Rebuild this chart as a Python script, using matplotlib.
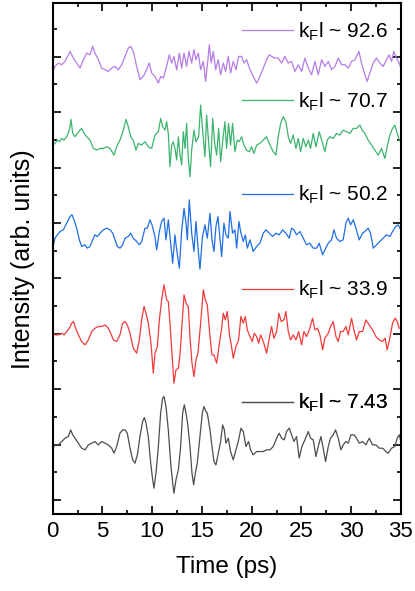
import matplotlib
import matplotlib.pyplot as plt

matplotlib.use('agg')

plt.rcParams['font.family'] = ['Liberation Sans', 'DejaVu Sans']
plt.rcParams['mathtext.default'] = 'regular'

# (time in ps, intensity in arb. units), top to bottom
purple_trace = [
    (0.00, -25), (0.23, -10), (0.57, 0), (0.90, -5), (1.24, 5), (1.74, 35), (2.08, 15), (2.41, 0),
    (2.75, -15), (3.08, 10), (3.42, 30), (3.75, 25), (4.02, 50), (4.25, 30), (4.59, 10), (4.92, -15),
    (5.26, -20), (5.59, -25), (5.93, -15), (6.26, -10), (6.60, -20), (6.93, -5), (7.27, 20), (7.60, 45),
    (7.84, 50), (8.10, 35), (8.44, -10), (8.78, -50), (9.11, -40), (9.44, -20), (9.71, 0), (9.95, -30),
    (10.28, -40), (10.62, -60), (10.85, -40), (11.12, -45), (11.45, -10), (11.72, 25), (11.96, 0),
    (12.19, 20), (12.46, -20), (12.73, 30), (12.96, -15), (13.20, 30), (13.46, -10), (13.70, 35),
    (13.97, 0), (14.20, 40), (14.40, 10), (14.64, 30), (14.87, -20), (15.14, 5), (15.37, -55),
    (15.57, 0), (15.74, 55), (15.94, 0), (16.14, 35), (16.38, -20), (16.64, 10), (16.88, -35),
    (17.15, 0), (17.38, -25), (17.65, 20), (17.88, -30), (18.15, 5), (18.42, -20), (18.69, 20),
    (18.99, 20), (19.22, 0), (19.49, 10), (19.83, -20), (20.16, -40), (20.50, -60), (20.83, -40),
    (21.17, -15), (21.50, 10), (21.77, 25), (22.00, 20), (22.34, 15), (22.67, 15), (23.01, 0),
    (23.34, 20), (23.68, 0), (24.01, 5), (24.35, -25), (24.68, -5), (25.02, -25), (25.35, 15),
    (25.69, -15), (26.02, -35), (26.36, 5), (26.69, -35), (27.03, 10), (27.36, -10), (27.70, 5),
    (28.03, -20), (28.37, -10), (28.70, 15), (29.04, -5), (29.37, -5), (29.71, -15), (30.04, 5),
    (30.38, 10), (30.78, 35), (31.04, 0), (31.38, -35), (31.61, -55), (31.88, -30), (32.22, 0),
    (32.55, 15), (32.89, 0), (33.22, -10), (33.56, 10), (33.83, 25), (34.06, 5), (34.29, 35),
    (34.56, 15), (34.83, 0), (35.00, -15),
]

green_trace = [
    (0.00, -10), (0.23, -5), (0.47, 5), (0.67, 0), (0.90, 10), (1.14, 5), (1.41, 15), (1.67, 35),
    (1.84, 67), (2.01, 25), (2.24, 15), (2.48, 25), (2.75, 35), (2.91, 40), (3.15, 25), (3.42, 15),
    (3.75, 5), (4.09, -20), (4.42, -25), (4.76, -20), (5.09, -20), (5.43, -15), (5.76, -20),
    (6.16, -40), (6.43, -15), (6.76, 5), (7.10, 35), (7.37, 67), (7.60, 45), (7.84, 15), (8.10, 5),
    (8.37, -25), (8.61, -5), (8.94, -10), (9.28, 0), (9.61, -15), (9.95, -20), (10.28, 20),
    (10.62, 30), (10.85, 70), (11.05, 45), (11.29, 35), (11.45, 60), (11.62, 25), (11.79, -75),
    (11.96, -10), (12.12, 0), (12.29, -20), (12.46, -55), (12.63, 15), (12.79, -35), (12.96, -70),
    (13.13, 30), (13.30, -20), (13.46, 55), (13.63, -50), (13.80, -105), (13.97, -25), (14.20, 35),
    (14.40, 0), (14.67, 15), (14.87, 110), (15.07, 35), (15.30, -45), (15.47, 80), (15.67, 0),
    (15.87, -75), (16.08, 70), (16.28, -5), (16.48, -40), (16.68, 40), (16.88, -60), (17.08, 0),
    (17.31, 60), (17.48, -20), (17.68, 55), (17.88, -10), (18.08, 55), (18.32, -30), (18.55, 5),
    (18.75, 0), (18.99, 15), (19.22, -10), (19.49, -25), (19.76, -30), (19.99, -15), (20.23, -35),
    (20.50, -10), (20.83, -5), (21.17, 5), (21.50, 15), (21.84, -10), (22.17, -30), (22.44, -40),
    (22.67, 15), (22.91, 55), (23.18, 75), (23.44, 60), (23.68, 15), (23.91, -5), (24.18, 20),
    (24.45, -20), (24.68, 10), (24.92, -30), (25.18, 10), (25.45, -15), (25.69, 5), (25.92, -20),
    (26.19, 25), (26.46, -15), (26.79, 30), (27.13, -5), (27.36, -30), (27.60, 5), (27.86, 15),
    (28.20, 10), (28.53, 25), (28.87, 20), (29.20, 35), (29.54, 30), (29.87, 25), (30.21, 40),
    (30.54, 40), (30.88, 50), (31.11, 35), (31.38, 25), (31.71, 5), (32.05, -10), (32.38, -25),
    (32.72, -40), (33.05, -20), (33.39, -50), (33.62, -15), (33.89, 20), (34.16, 40), (34.39, 50),
    (34.63, 25), (34.83, 5), (35.00, 0),
]

blue_trace = [
    (0.00, -35), (0.23, -5), (0.47, 5), (0.74, 15), (1.07, 20), (1.41, 40), (1.74, 60), (1.94, 65),
    (2.14, 50), (2.41, 25), (2.68, -10), (2.91, -30), (3.25, -25), (3.48, -35), (3.75, -30),
    (4.02, -10), (4.25, 5), (4.49, 0), (4.76, 10), (5.09, 20), (5.43, 25), (5.76, 20), (6.03, 10),
    (6.26, -10), (6.50, -30), (6.76, -35), (7.03, -25), (7.27, -5), (7.60, 0), (7.84, 10), (8.10, -5),
    (8.44, -15), (8.71, -25), (8.94, -15), (9.28, 25), (9.51, 25), (9.78, 50), (9.98, 35), (10.28, 0),
    (10.45, -40), (10.72, 15), (10.95, 45), (11.19, 55), (11.39, -10), (11.62, 50), (11.86, -20),
    (12.06, -80), (12.29, 5), (12.46, -40), (12.73, -95), (12.96, 15), (13.20, 85), (13.40, 40),
    (13.53, -10), (13.73, 110), (13.97, 10), (14.20, -45), (14.40, 45), (14.64, -45), (14.80, -98),
    (15.04, -5), (15.30, 35), (15.54, -5), (15.81, 70), (16.01, -10), (16.21, -45), (16.41, 30),
    (16.61, 60), (16.81, -5), (16.98, -60), (17.21, 40), (17.41, 5), (17.65, -5), (17.82, 75),
    (18.08, 10), (18.32, 20), (18.49, -35), (18.72, 45), (18.92, 10), (19.16, -15), (19.36, 5),
    (19.56, -35), (19.83, -10), (20.16, -45), (20.50, -30), (20.83, -20), (21.17, 10), (21.43, 20),
    (21.77, 10), (22.10, 0), (22.44, 10), (22.77, 5), (23.11, 20), (23.44, 10), (23.78, -5),
    (24.01, 25), (24.25, 20), (24.51, 5), (24.85, 15), (25.18, -5), (25.52, -25), (25.85, -20),
    (26.19, -35), (26.52, -35), (26.79, -20), (27.13, -55), (27.36, -40), (27.70, -20), (28.03, -10),
    (28.27, 20), (28.53, -5), (28.87, -15), (29.20, -10), (29.47, 40), (29.71, 55), (29.94, 35),
    (30.21, 50), (30.48, 25), (30.81, -10), (31.15, 10), (31.38, 15), (31.71, 25), (31.95, 10),
    (32.22, -35), (32.55, -25), (32.89, -15), (33.22, -5), (33.56, 5), (33.89, 0), (34.16, 15),
    (34.49, 30), (34.73, 35), (35.00, 20),
]

red_trace = [
    (0.00, 0), (0.23, -5), (0.57, -5), (0.90, 0), (1.14, -5), (1.41, 5), (1.67, 15), (1.91, 30),
    (2.08, 35), (2.31, 15), (2.58, -5), (2.91, -25), (3.25, -35), (3.58, -20), (3.92, 5), (4.25, 15),
    (4.59, 20), (4.92, 20), (5.26, 25), (5.59, 15), (5.83, 0), (6.10, -20), (6.43, -25), (6.76, -5),
    (7.03, 30), (7.27, 35), (7.50, 25), (7.77, 0), (8.10, -45), (8.44, -60), (8.71, -20), (8.94, 40),
    (9.18, 80), (9.38, 60), (9.61, 30), (9.88, -30), (10.11, -120), (10.28, -60), (10.52, -40),
    (10.72, 40), (10.95, 100), (11.19, 145), (11.45, 100), (11.62, 95), (11.79, 30), (11.99, -60),
    (12.19, -150), (12.39, -110), (12.63, -105), (12.79, -65), (12.96, 10), (13.20, 115), (13.40, 90),
    (13.63, 80), (13.80, -10), (14.00, -90), (14.20, -130), (14.40, -80), (14.60, -60), (14.87, 30),
    (15.14, 130), (15.34, 100), (15.54, 85), (15.81, -10), (16.01, -65), (16.21, -65), (16.48, -90),
    (16.71, -40), (16.98, 15), (17.15, 60), (17.35, 40), (17.55, 65), (17.75, 0), (17.95, -35),
    (18.15, -75), (18.42, -40), (18.69, -20), (18.92, 50), (19.16, 30), (19.36, 50), (19.56, 10),
    (19.83, -10), (20.06, -25), (20.26, 0), (20.50, -10), (20.70, -30), (20.90, -5), (21.17, -25),
    (21.50, -60), (21.77, -15), (22.00, 20), (22.24, -15), (22.51, 5), (22.74, 60), (22.97, 35),
    (23.24, 40), (23.44, 65), (23.68, 5), (23.91, -20), (24.18, -5), (24.45, -20), (24.72, 5),
    (25.02, -35), (25.25, 5), (25.52, -10), (25.85, 15), (26.12, 45), (26.36, 10), (26.62, 15),
    (26.86, -5), (27.13, -50), (27.36, -15), (27.70, 0), (27.93, 20), (28.20, 35), (28.47, -10),
    (28.70, -25), (28.94, 5), (29.20, 5), (29.47, 20), (29.71, -5), (30.04, 45), (30.28, 10),
    (30.54, -20), (30.81, 5), (31.15, 5), (31.48, 40), (31.82, 25), (32.15, 10), (32.49, -10),
    (32.82, -20), (33.16, -25), (33.42, -15), (33.62, -50), (33.89, -15), (34.16, 30), (34.43, 45),
    (34.63, 35), (34.83, 15), (35.00, 15),
]

gray_trace = [
    (0.00, -10), (0.23, 0), (0.57, 0), (0.90, 10), (1.24, 20), (1.57, 25), (1.81, 45), (2.01, 30),
    (2.24, 20), (2.58, 5), (2.91, -10), (3.25, -15), (3.58, 0), (3.92, 5), (4.25, 10), (4.59, 0),
    (4.92, 10), (5.26, 5), (5.59, 0), (5.93, -10), (6.16, -25), (6.43, -5), (6.76, 35), (7.03, 45),
    (7.27, 45), (7.50, 35), (7.77, -10), (8.04, -45), (8.27, -55), (8.51, -30), (8.77, 25), (9.04, 70),
    (9.21, 82), (9.38, 65), (9.61, 25), (9.85, -55), (10.05, -105), (10.18, -130), (10.38, -85),
    (10.62, -5), (10.85, 95), (11.05, 140), (11.19, 145), (11.39, 115), (11.62, 45), (11.86, -55),
    (12.06, -115), (12.19, -145), (12.39, -105), (12.63, -75), (12.86, -5), (13.06, 95), (13.23, 120),
    (13.40, 95), (13.56, 65), (13.80, -5), (14.00, -85), (14.17, -120), (14.33, -85), (14.53, -55),
    (14.80, 25), (15.04, 95), (15.20, 115), (15.41, 100), (15.54, 95), (15.81, 45), (16.01, -5),
    (16.21, -50), (16.41, -60), (16.64, -25), (16.88, 10), (17.08, 60), (17.25, 45), (17.41, 5),
    (17.65, 20), (17.88, -20), (18.15, -45), (18.42, -15), (18.69, 15), (18.92, 50), (19.16, 40),
    (19.42, -5), (19.69, 10), (19.89, -15), (20.16, -30), (20.50, -20), (20.83, -20), (21.17, -20),
    (21.50, -15), (21.84, -15), (22.17, -5), (22.51, 20), (22.77, 35), (23.01, 20), (23.28, 15),
    (23.51, 40), (23.78, 50), (24.01, 30), (24.25, 10), (24.51, 25), (24.78, -40), (25.05, -5),
    (25.35, 15), (25.69, 40), (25.92, 20), (26.19, 15), (26.46, -35), (26.69, -5), (26.96, 25),
    (27.19, -10), (27.43, -50), (27.70, -5), (27.93, 20), (28.20, 30), (28.43, 45), (28.70, 20),
    (28.97, -15), (29.20, 0), (29.47, 10), (29.71, 5), (29.98, 30), (30.28, 30), (30.54, 20),
    (30.81, 5), (31.15, 10), (31.48, 0), (31.82, 20), (32.15, 0), (32.49, 0), (32.82, -10),
    (33.16, -10), (33.49, -20), (33.72, -25), (34.06, -10), (34.39, -5), (34.63, 20), (34.83, 30),
    (35.00, 10),
]

kfl_values = ['92.6', '70.7', '50.2', '33.9', '7.43']
traces = [purple_trace, green_trace, blue_trace, red_trace, gray_trace]

# layout / style
colors = ['#b57ce6', '#3cb46e', '#1f6fe5', '#f23a3a', '#4d4d4d']
offsets = [15.77, 12.93, 9.51, 6.02, 1.99]
scale = 1 / 83.1
legend_y = [0.9448, 0.8077, 0.6249, 0.4388, 0.2174]

fig = plt.figure(figsize=(4.15, 5.91), dpi=100)
ax = fig.add_axes([0.127, 0.1303, 0.839, 0.8638])

lines = []
for trace, color, off in zip(traces, colors, offsets):
    t = [p[0] for p in trace]
    v = [p[1] * scale + off for p in trace]
    line, = ax.plot(t, v, color=color, lw=0.9)
    lines.append(line)

for line, kfl, ypos in zip(lines, kfl_values, legend_y):
    leg = ax.legend(handles=[line], labels=[r'k$_F$l ~ ' + kfl], loc='center left',
                    bbox_to_anchor=(0.5426, ypos), frameon=False, fontsize=15,
                    handlelength=2.45, handletextpad=0.25, borderpad=0, borderaxespad=0)
    ax.add_artist(leg)

ax.set_xlim(0, 35)
ax.set_ylim(-0.505, 17.92)
ax.set_xticks(range(0, 36, 5))
ax.set_xticks([x + 2.5 for x in range(0, 35, 5)], minor=True)
ax.set_yticks(range(0, 18, 2))
ax.set_yticks(range(1, 18, 2), minor=True)
ax.set_yticklabels([])
ax.tick_params(which='both', direction='in', top=True, right=True, width=1.2, labelsize=16)
ax.tick_params(which='major', length=6, pad=5)
ax.tick_params(which='minor', length=3)
for sp in ax.spines.values():
    sp.set_linewidth(1.5)

ax.set_xlabel('Time (ps)', fontsize=17.5, labelpad=10)
ax.set_ylabel('Intensity (arb. units)', fontsize=18, labelpad=8)

fig.savefig('out.png', dpi=100)
